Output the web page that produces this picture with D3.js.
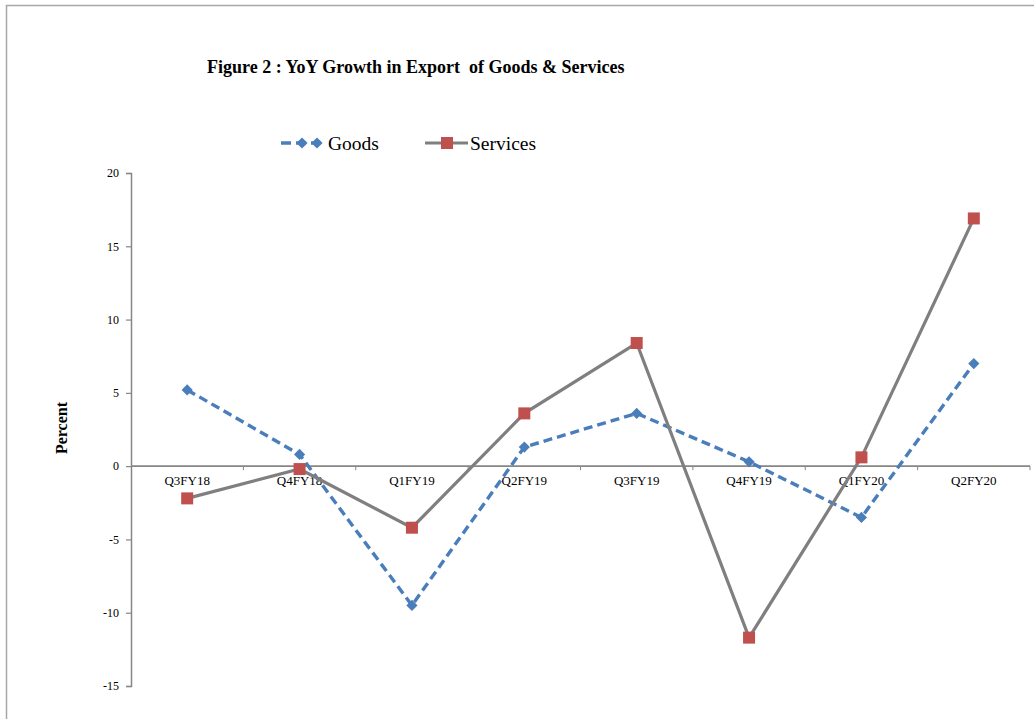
<!DOCTYPE html>
<html>
<head>
<meta charset="utf-8">
<script src="https://cdn.jsdelivr.net/npm/d3@7"></script>
</head>
<body style="margin:0;padding:0;background:#fff">
<svg id="chart" width="1034" height="719" style="display:block"></svg>
<script>
const categories = ["Q3FY18", "Q4FY18", "Q1FY19", "Q2FY19", "Q3FY19", "Q4FY19", "Q1FY20", "Q2FY20"];
const goods = [5.2, 0.8, -9.5, 1.3, 3.6, 0.3, -3.5, 7.0];
const services = [-2.2, -0.2, -4.2, 3.6, 8.4, -11.7, 0.6, 16.9];
const yTicks = [20, 15, 10, 5, 0, -5, -10, -15];
const titleText = "Figure 2 : YoY Growth in Export  of Goods & Services";
const seriesNames = ["Goods", "Services"];

const FONT = "'Liberation Serif'";
const svg = d3.select("#chart");
const W = 1034, H = 719;
const axisColor = "#868686";
const goodsColor = "#4a7ebb";
const servColor = "#7f7f7f";
const squareColor = "#c0504d";

// outer border
svg.append("path")
  .attr("d", `M6.5,${H} L6.5,5.5 L${W},5.5`)
  .attr("fill", "none").attr("stroke", "#a6a6a6").attr("stroke-width", 1.5);

const x = d3.scaleBand().domain(categories).range([131, 1030]);
const y = d3.scaleLinear().domain([-15, 20]).range([686, 173]);

// title
svg.append("text")
  .attr("x", 207).attr("y", 73)
  .style("font-family", FONT).style("font-size", "18px").style("font-weight", "bold")
  .style("white-space", "pre")
  .text(titleText);

// y axis
const yAxis = d3.axisLeft(y).tickValues(yTicks).tickSize(5).tickPadding(7).tickFormat(d3.format("d"));
const gy = svg.append("g").attr("transform", "translate(131,0)").call(yAxis);
gy.select(".domain").attr("stroke", axisColor).attr("stroke-width", 1.5);
gy.selectAll(".tick line").attr("stroke", axisColor).attr("stroke-width", 1.2);
gy.selectAll(".tick text")
  .style("font-family", FONT).style("font-size", "12px").attr("fill", "#000")
  .text(d => d < 0 ? "-" + Math.abs(d) : d);

// x axis at zero
const x0 = y(0);
svg.append("line")
  .attr("x1", 131).attr("x2", 1030).attr("y1", x0).attr("y2", x0)
  .attr("stroke", axisColor).attr("stroke-width", 1.8);
const boundaries = categories.map(c => x(c) + x.bandwidth());
svg.append("g").selectAll("line").data(boundaries).join("line")
  .attr("x1", d => d).attr("x2", d => d)
  .attr("y1", x0).attr("y2", x0 + 4)
  .attr("stroke", axisColor).attr("stroke-width", 1);
svg.append("g").selectAll("text").data(categories).join("text")
  .attr("x", d => x(d) + x.bandwidth() / 2)
  .attr("y", x0 + 19)
  .attr("text-anchor", "middle")
  .style("font-family", FONT).style("font-size", "13px")
  .text(d => d);

// y label
svg.append("text")
  .attr("transform", "translate(67,428) rotate(-90)")
  .attr("text-anchor", "middle")
  .style("font-family", FONT).style("font-size", "16px").style("font-weight", "bold")
  .text("Percent");

const cx = d => x(d) + x.bandwidth() / 2;
const line = d3.line().x((d, i) => cx(categories[i])).y(d => y(d));

// goods
svg.append("path").datum(goods)
  .attr("d", line).attr("fill", "none")
  .attr("stroke", goodsColor).attr("stroke-width", 3.4)
  .attr("stroke-dasharray", "9,5");
const diamond = d3.symbol().type(d3.symbolDiamond2).size(80);
svg.append("g").selectAll("path").data(goods).join("path")
  .attr("d", diamond)
  .attr("transform", (d, i) => `translate(${cx(categories[i])},${y(d)})`)
  .attr("fill", goodsColor);

// services
svg.append("path").datum(services)
  .attr("d", line).attr("fill", "none")
  .attr("stroke", servColor).attr("stroke-width", 3.2);
svg.append("g").selectAll("rect").data(services).join("rect")
  .attr("x", (d, i) => cx(categories[i]) - 6)
  .attr("y", d => y(d) - 6)
  .attr("width", 12).attr("height", 12)
  .attr("fill", squareColor);

// legend
const lg = svg.append("g");
const ly = 143;
lg.append("line").attr("x1", 281).attr("x2", 324).attr("y1", ly).attr("y2", ly)
  .attr("stroke", goodsColor).attr("stroke-width", 3.4).attr("stroke-dasharray", "10,5");
lg.append("path").attr("d", diamond).attr("transform", `translate(302,${ly})`).attr("fill", goodsColor);
lg.append("path").attr("d", diamond).attr("transform", `translate(317,${ly})`).attr("fill", goodsColor);
lg.append("text").attr("x", 328).attr("y", ly + 6.5)
  .style("font-family", FONT).style("font-size", "19.5px").text(seriesNames[0]);

lg.append("line").attr("x1", 425).attr("x2", 468).attr("y1", ly).attr("y2", ly)
  .attr("stroke", servColor).attr("stroke-width", 3.2);
lg.append("rect").attr("x", 441).attr("y", ly - 6).attr("width", 12).attr("height", 12).attr("fill", squareColor);
lg.append("text").attr("x", 470).attr("y", ly + 6.5)
  .style("font-family", FONT).style("font-size", "19.5px").text(seriesNames[1]);
</script>
</body>
</html>
